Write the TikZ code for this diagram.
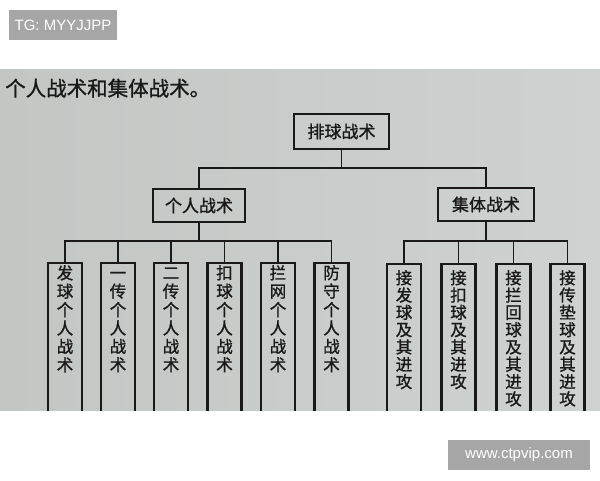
\documentclass[tikz,border=0pt]{standalone}
\usepackage{fontspec}
\setmainfont{Liberation Sans}
\newfontfamily\cjk[FakeBold=1.2]{Noto Sans CJK SC}
\newcommand\firstln{\vphantom{术}}
\definecolor{photoL}{RGB}{194,199,196}
\definecolor{photoR}{RGB}{206,211,210}
\definecolor{wmgray}{RGB}{166,166,166}
\definecolor{ink}{RGB}{25,25,25}
\begin{document}
\begin{tikzpicture}[x=1pt,y=-1pt,
  box/.style={draw=ink, line width=2.2pt, inner sep=0pt, font=\cjk\fontsize{17}{17}\selectfont, text=ink},
  leafbox/.style={draw=ink, line width=2.2pt, minimum width=34pt, minimum height=170pt, anchor=north, inner sep=0pt},
  leaftxt/.style={anchor=north, align=center, inner sep=0pt, text=ink},
  indtxt/.style={leaftxt, font=\cjk\fontsize{16.5}{18.4}\selectfont},
  coltxt/.style={leaftxt, font=\cjk\fontsize{16.5}{17.3}\selectfont},
  conn/.style={draw=ink, line width=1.7pt},
  wm/.style={fill=wmgray, text=white, font=\fontsize{15}{15}\selectfont, inner sep=0pt}]
\useasboundingbox (0,0) rectangle (600,480);
\fill[white] (0,0) rectangle (600,480);
\shade[left color=photoL, right color=photoR] (0,69) rectangle (600,410);

% watermarks
\node[wm, minimum width=108pt, minimum height=30pt] (tg) at (63,25) {TG: MYYJJPP};
\node[wm, minimum width=142pt, minimum height=30pt] (url) at (519,455) {www.ctpvip.com};

% heading
\node[anchor=base west, inner sep=0pt, text=ink, font=\cjk\fontsize{20.5}{20.5}\selectfont] (head) at (5,96) {个人战术和集体战术。};

% top levels
\node[box, minimum width=95pt, minimum height=35pt] (root) at (341.5,131.5) {排球战术};
\node[box, minimum width=92pt, minimum height=33pt] (ind) at (199,205.5) {个人战术};
\node[box, minimum width=96pt, minimum height=33pt] (col) at (486,204.5) {集体战术};

\coordinate (j0) at (341.5,168);
\coordinate (j1) at (199,241);
\coordinate (j2) at (486,241);

\begin{scope}
\clip (0,69) rectangle (600,410);
% individual leaves
\node[leafbox] (a1) at (65,262) {};
\node[leafbox] (a2) at (118,262) {};
\node[leafbox] (a3) at (171,262) {};
\node[leafbox] (a4) at (224.5,262) {};
\node[leafbox] (a5) at (278,262) {};
\node[leafbox] (a6) at (331.5,262) {};
% collective leaves
\node[leafbox] (b1) at (404,263) {};
\node[leafbox] (b2) at (458.5,263) {};
\node[leafbox] (b3) at (513.5,263) {};
\node[leafbox] (b4) at (567.5,263) {};

\node[indtxt] (ta1) at (65,265) {\firstln 发\\球\\个\\人\\战\\术};
\node[indtxt] (ta2) at (118,265) {\firstln 一\\传\\个\\人\\战\\术};
\node[indtxt] (ta3) at (171,265) {\firstln 二\\传\\个\\人\\战\\术};
\node[indtxt] (ta4) at (224.5,265) {\firstln 扣\\球\\个\\人\\战\\术};
\node[indtxt] (ta5) at (278,265) {\firstln 拦\\网\\个\\人\\战\\术};
\node[indtxt] (ta6) at (331.5,265) {\firstln 防\\守\\个\\人\\战\\术};

\node[coltxt] (tb1) at (404,270) {\firstln 接\\发\\球\\及\\其\\进\\攻};
\node[coltxt] (tb2) at (458.5,270) {\firstln 接\\扣\\球\\及\\其\\进\\攻};
\node[coltxt] (tb3) at (513.5,270) {\firstln 接\\拦\\回\\球\\及\\其\\进\\攻};
\node[coltxt] (tb4) at (567.5,270) {\firstln 接\\传\\垫\\球\\及\\其\\进\\攻};
\end{scope}

% connectors
\draw[conn] (root.south) -- (j0);
\draw[conn] (ind.north) -- (ind.north |- j0) -- (col.north |- j0) -- (col.north);

\draw[conn] (ind.south) -- (j1);
\draw[conn] (a1.north) -- (a1.north |- j1) -- (a6.north |- j1) -- (a6.north);
\foreach \n in {a2,a3,a4,a5} \draw[conn] (\n.north) -- (\n.north |- j1);

\draw[conn] (col.south) -- (j2);
\draw[conn] (b1.north) -- (b1.north |- j2) -- (b4.north |- j2) -- (b4.north);
\foreach \n in {b2,b3} \draw[conn] (\n.north) -- (\n.north |- j2);
\end{tikzpicture}
\end{document}
